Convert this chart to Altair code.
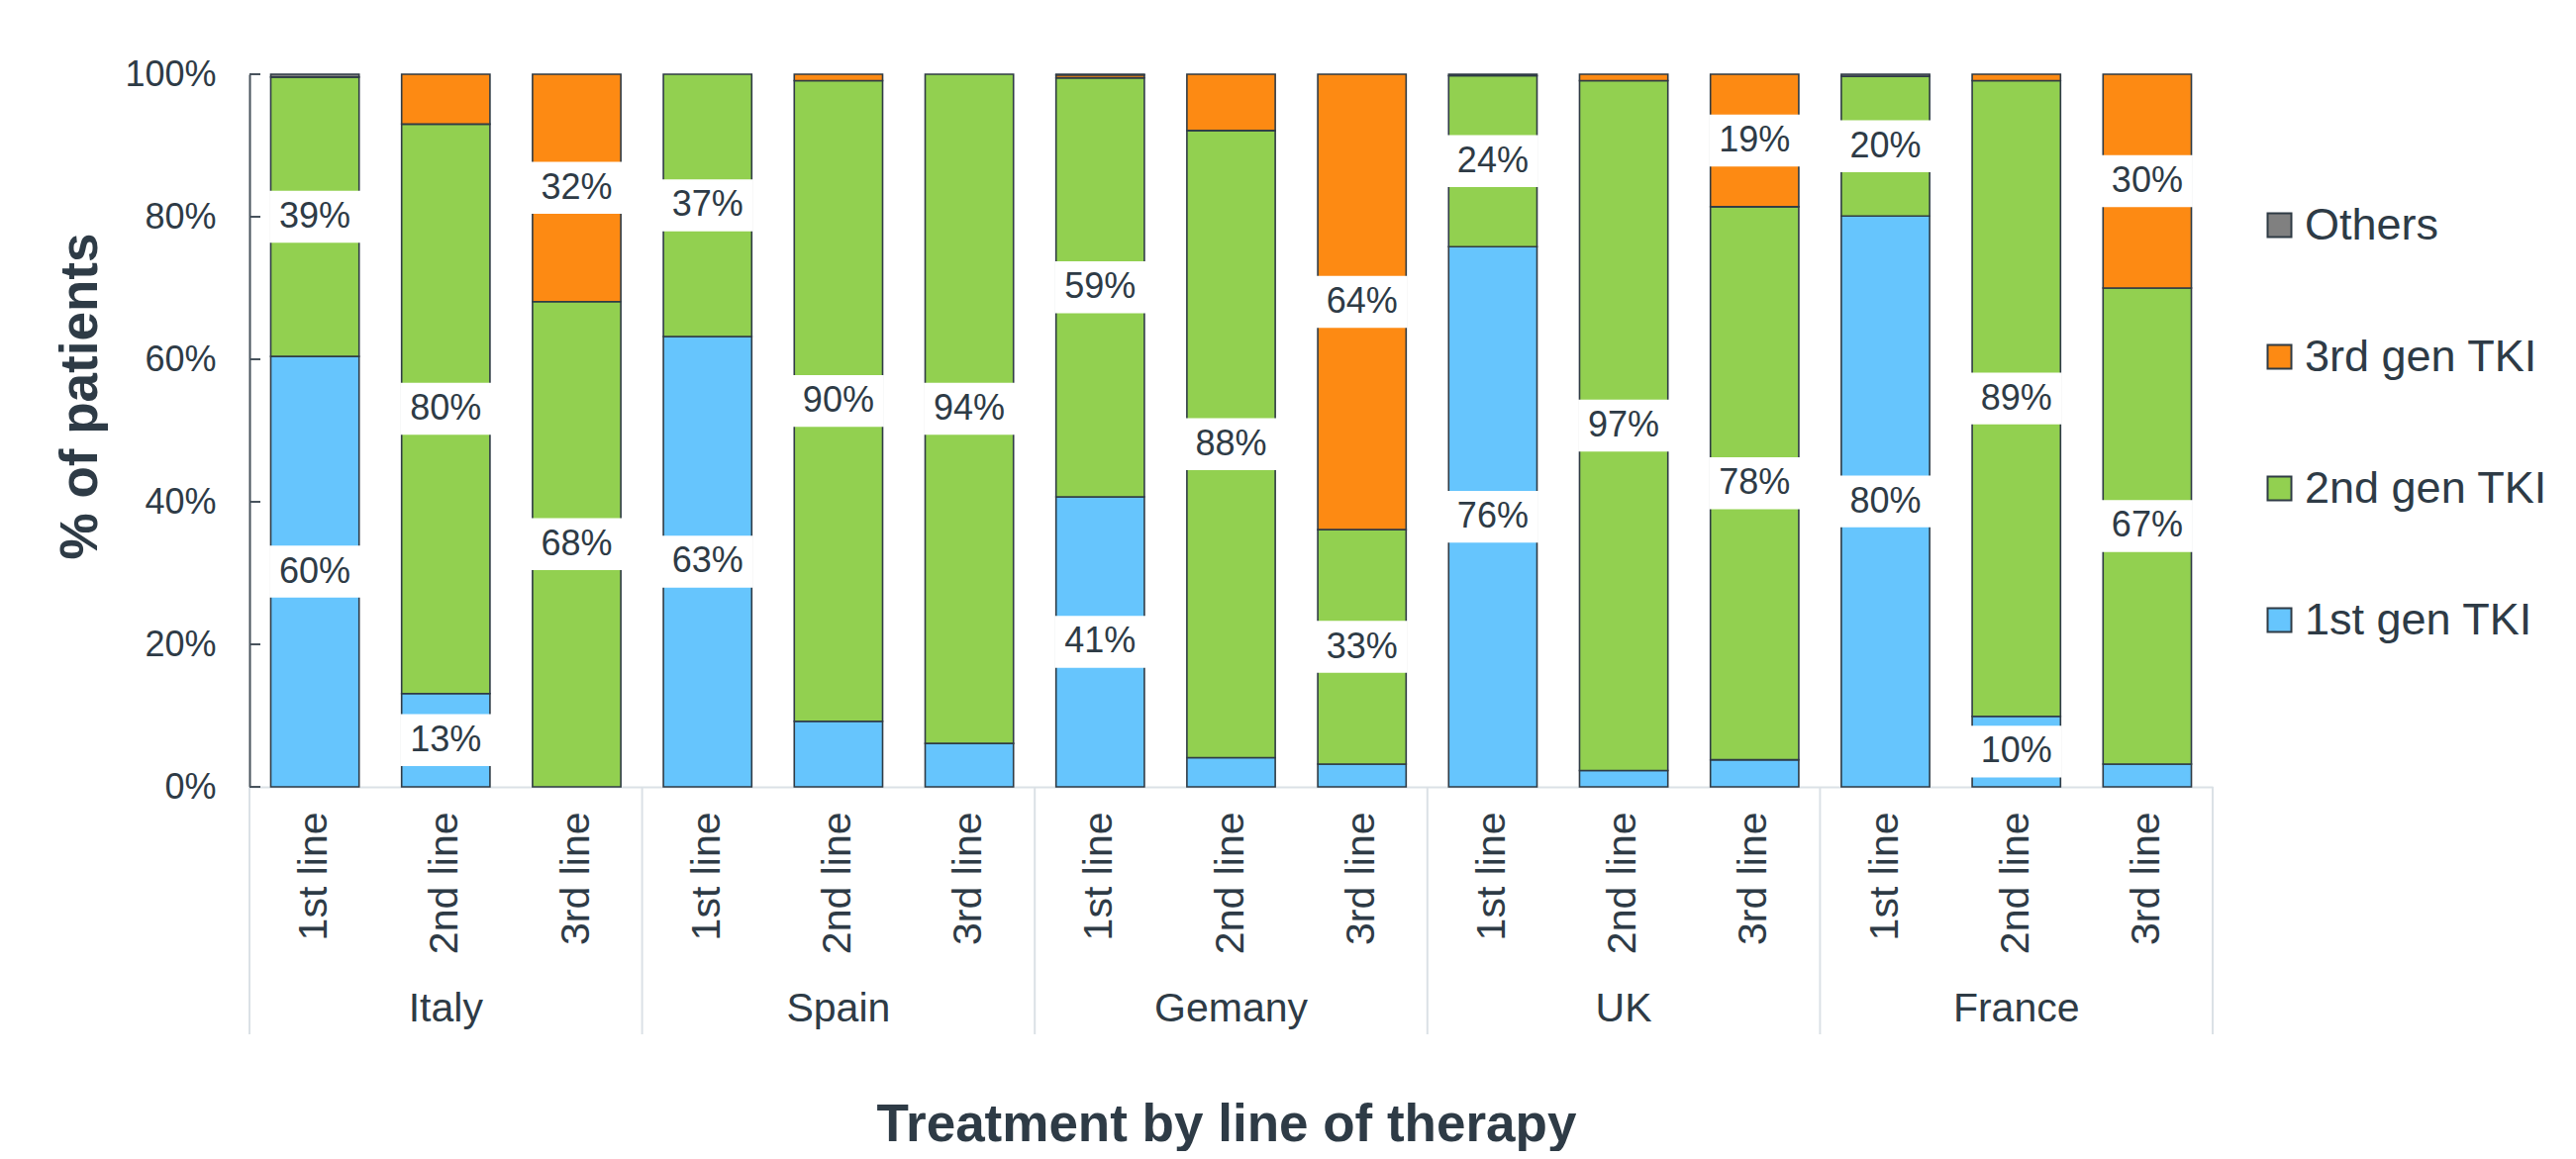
import altair as alt
import pandas as pd

countries = ["Italy", "Spain", "Gemany", "UK", "France"]
lines = ["1st line", "2nd line", "3rd line"]
series = ["1st gen TKI", "2nd gen TKI", "3rd gen TKI", "Others"]
colors = ["#66c5fd", "#92d050", "#fd8a13", "#808080"]

# values per bar, order: Italy 1-3, Spain 1-3, Gemany 1-3, UK 1-3, France 1-3
gen1 = [60.4, 13.1, 0.0, 63.2, 9.2, 6.1, 40.7, 4.1, 3.2, 75.8, 2.3, 3.8, 80.1, 9.9, 3.2]
gen2 = [39.2, 79.9, 68.1, 36.8, 89.9, 93.9, 58.8, 88.0, 32.9, 24.0, 96.8, 77.6, 19.6, 89.2, 66.8]
gen3 = [0.0, 7.0, 31.9, 0.0, 0.9, 0.0, 0.4, 7.9, 63.9, 0.0, 0.9, 18.6, 0.0, 0.9, 30.0]
others = [0.4, 0.0, 0.0, 0.0, 0.0, 0.0, 0.1, 0.0, 0.0, 0.2, 0.0, 0.0, 0.3, 0.0, 0.0]
y_ticks = [0, 20, 40, 60, 80, 100]

TXT = "#2e3b46"
FONT = "Liberation Sans"
W, H = 1983, 720
STEP = W / 15.0

keys = [f"{c}|{l}" for c in countries for l in lines]
rows = []
for i, k in enumerate(keys):
    for s_i, (s, vals) in enumerate(zip(series, [gen1, gen2, gen3, others])):
        rows.append({"key": k, "series": s, "order": s_i, "value": vals[i]})
df = pd.DataFrame(rows)
df = df[df["value"] > 0]

xscale = alt.Scale(domain=keys, paddingInner=0.325, paddingOuter=0.1625)
yscale = alt.Scale(domain=[0, 100])

x_enc = alt.X(
    "key:N", sort=keys, scale=xscale,
    axis=alt.Axis(
        title="Treatment by line of therapy",
        labelExpr="split(datum.label, '|')[1]",
        labelAngle=-90, labelAlign="right", labelBaseline="middle",
        labelPadding=25, labelFontSize=41, labelColor=TXT, labelFont=FONT,
        ticks=False, domainColor="#dbe1e6", domainWidth=2,
        titleFontSize=53, titleFont=FONT, titleFontWeight="bold", titleColor=TXT,
        titleX=W / 2 - 5, titleY=357, titleBaseline="alphabetic", titleAlign="center",
        labelOverlap=False,
    ),
)

bars = alt.Chart(df).mark_bar(stroke="#2f3b45", strokeWidth=1.6).encode(
    x=x_enc,
    y=alt.Y(
        "value:Q", stack="zero", scale=yscale,
        axis=alt.Axis(
            title="% of patients", values=y_ticks, labelExpr="datum.value + '%'",
            grid=False, ticks=False, domainColor="#48535d", domainWidth=2,
            labelPadding=34, labelFontSize=36, labelColor=TXT, labelFont=FONT,
            titleFontSize=53, titleFont=FONT, titleFontWeight="bold", titleColor=TXT,
            titleX=-171, titleY=325, titleAlign="center", titleBaseline="middle",
            titleAngle=270,
        ),
    ),
    color=alt.Color(
        "series:N",
        scale=alt.Scale(domain=series[::-1], range=colors[::-1]),
        legend=alt.Legend(
            title=None, orient="none", legendX=2028, legendY=130,
            symbolType="square", symbolSize=576, symbolStrokeColor="#2f3b45",
            symbolStrokeWidth=2, symbolOpacity=1, labelFontSize=45, labelFont=FONT,
            labelColor=TXT, rowPadding=87, labelOffset=3, labelLimit=0,
        ),
    ),
    order=alt.Order("order:Q"),
)

lab_base = alt.Chart(df).transform_stack(
    stack="value", as_=["v0", "v1"], groupby=["key"], sort=[alt.SortField("order")]
).transform_calculate(
    mid="(datum.v0 + datum.v1) / 2"
).transform_filter("datum.value >= 9.5")

box_path = "M-1,-0.57L1,-0.57L1,0.57L-1,0.57Z"
boxes = lab_base.mark_point(
    shape=box_path, size=92 * 92, filled=True, fill="white", opacity=1, strokeWidth=0
).encode(x=alt.X("key:N", sort=keys, scale=xscale), y=alt.Y("mid:Q", scale=yscale))

texts = lab_base.transform_calculate(
    lbl="format(datum.value, '.0f') + '%'"
).mark_text(fontSize=36, font=FONT, color=TXT, baseline="middle", align="center").encode(
    x=alt.X("key:N", sort=keys, scale=xscale),
    y=alt.Y("mid:Q", scale=yscale),
    text="lbl:N",
)

ticks_df = pd.DataFrame({"t": y_ticks})
ytick_rules = alt.Chart(ticks_df).mark_rule(color="#48535d", strokeWidth=2).encode(
    y=alt.Y("t:Q", scale=yscale), x=alt.value(0), x2=alt.value(11)
)

sep_left = pd.DataFrame({"key": [f"{c}|{lines[0]}" for c in countries]})
sep_right = pd.DataFrame({"key": [f"{countries[-1]}|{lines[-1]}"]})
seps1 = alt.Chart(sep_left).mark_rule(color="#dbe1e6", strokeWidth=2, xOffset=-STEP / 2).encode(
    x=alt.X("key:N", sort=keys, scale=xscale), y=alt.value(H), y2=alt.value(H + 250)
)
seps2 = alt.Chart(sep_right).mark_rule(color="#dbe1e6", strokeWidth=2, xOffset=STEP / 2).encode(
    x=alt.X("key:N", sort=keys, scale=xscale), y=alt.value(H), y2=alt.value(H + 250)
)

country_df = pd.DataFrame({"key": [f"{c}|{lines[1]}" for c in countries], "country": countries})
country_text = alt.Chart(country_df).mark_text(
    fontSize=41, font=FONT, color=TXT, baseline="middle", align="center"
).encode(x=alt.X("key:N", sort=keys, scale=xscale), y=alt.value(H + 225), text="country:N")

chart = alt.layer(bars, seps1, seps2, ytick_rules, boxes, texts, country_text).properties(
    width=W, height=H,
    autosize=alt.AutoSizeParams(type="none"),
    padding={"left": 244, "top": 67, "right": 359, "bottom": 368},
).configure_view(stroke=None)

chart.save("out.html", embed_options={"renderer": "svg", "actions": False})
